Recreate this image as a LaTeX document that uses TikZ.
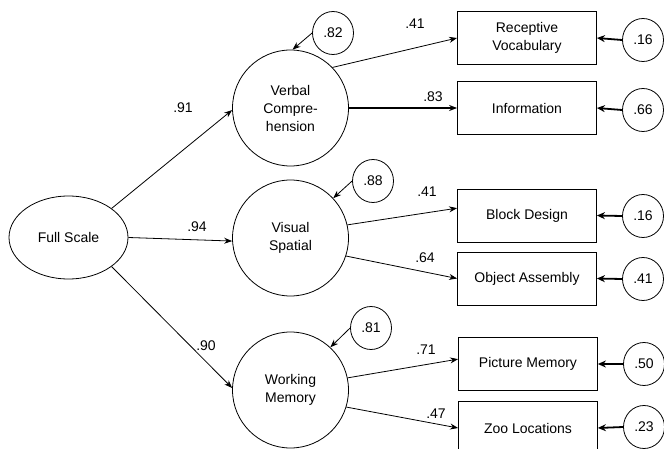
\documentclass[tikz,border=0pt]{standalone}
\usepackage{fontspec}
\setmainfont{Liberation Sans}
\usetikzlibrary{shapes.geometric,arrows.meta}
\begin{document}
\begin{tikzpicture}[x=1pt,y=-1pt,
  every node/.style={font=\fontsize{14}{18}\selectfont},
  latent/.style={draw,circle,minimum size=116pt,inner sep=0pt,align=center,line width=0.8pt},
  fsell/.style={draw,ellipse,minimum width=119pt,minimum height=83pt,inner sep=0pt,line width=0.8pt},
  res/.style={draw,ellipse,minimum width=41pt,minimum height=43pt,inner sep=0pt,line width=0.8pt},
  obs/.style={draw,rectangle,minimum width=139pt,minimum height=53pt,inner sep=0pt,align=center,line width=0.8pt},
  arr/.style={-{Stealth[length=8pt,width=6pt]},line width=0.8pt},
  tarr/.style={-{Stealth[length=8pt,width=7pt]},line width=1.8pt},
  lab/.style={inner sep=0pt}
]
\useasboundingbox (0,0) rectangle (664,449);
\fill[white] (0,0) rectangle (664,449);

% general factor
\node[fsell] (fs) at (68.5,237.5) {Full Scale};

% latent factors
\node[latent] (vc) at (290.5,108) {Verbal\\Compre-\\hension};
\node[latent] (vs) at (290.5,238) {Visual\\Spatial};
\node[latent] (wm) at (290.5,390) {Working\\Memory};

% latent residuals
\node[res] (r1) at (333,33) {.82};
\node[res] (r2) at (373,181) {.88};
\node[res] (r3) at (371,328) {.81};

% observed
\node[obs] (rv) at (527,38) {Receptive\\Vocabulary};
\node[obs] (inf) at (527,108) {Information};
\node[obs] (bd) at (527,215.5) {Block Design};
\node[obs] (oa) at (527,278.5) {Object Assembly};
\node[obs] (pm) at (528,364) {Picture Memory};
\node[obs] (zl) at (528,428) {Zoo Locations};

% observed residuals
\node[res] (e1) at (643,40) {.16};
\node[res] (e2) at (643,110) {.66};
\node[res] (e3) at (643,216) {.16};
\node[res] (e4) at (643,279) {.41};
\node[res] (e5) at (644,364) {.50};
\node[res] (e6) at (644,427) {.23};

% general -> latent
\draw[arr] (fs.34) -- (vc.182);
\draw[arr] (fs.east) -- (vs.183);
\draw[arr] (fs.326) -- (wm.178);
\node[lab] (l91) at (183,108) {.91};
\node[lab] (l94) at (197,227) {.94};
\node[lab] (l90) at (206,346) {.90};

% residual -> latent
\draw[arr] (r1.west) -- (vc.88);
\draw[arr] (r2.west) -- (vs.43);
\draw[arr] (r3.west) -- (wm.47);

% latent -> observed
\draw[arr] (vc.44) -- (rv.west);
\draw[arr,line width=1.6pt] (vc.east) -- (inf.west);
\draw[arr] (vs.13) -- (bd.174);
\draw[arr] (vs.-18) -- (oa.west);
\draw[arr] (wm.12) -- (pm.176);
\draw[arr] (wm.-17) -- (zl.west);
\node[lab] (l41a) at (415,24) {.41};
\node[lab] (l83) at (433,97) {.83};
\node[lab] (l41b) at (427,192) {.41};
\node[lab] (l64) at (425,258) {.64};
\node[lab] (l71) at (426,350) {.71};
\node[lab] (l47) at (436,414) {.47};

% residual -> observed
\draw[tarr] (e1.west) -- (rv.east);
\draw[tarr] (e2.west) -- (inf.east);
\draw[tarr] (e3.west) -- (bd.east);
\draw[tarr] (e4.west) -- (oa.east);
\draw[tarr] (e5.west) -- (pm.east);
\draw[tarr] (e6.west) -- (zl.east);
\end{tikzpicture}
\end{document}
